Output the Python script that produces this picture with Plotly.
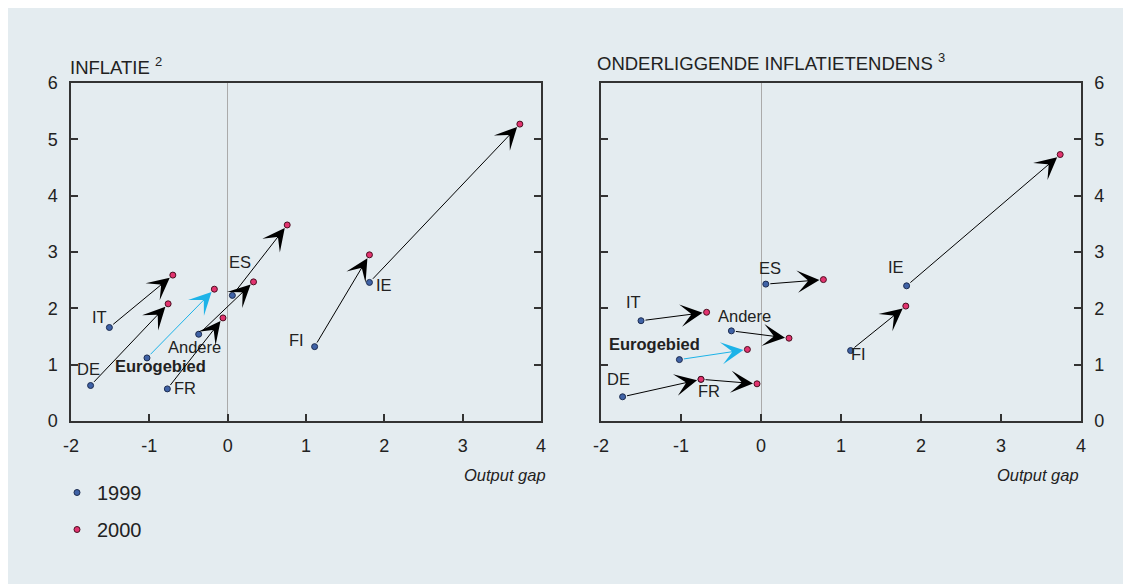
import plotly.graph_objects as go

# ---- data ----
countries = ["DE", "IT", "Eurogebied", "Andere", "FR", "ES", "IE", "FI"]

# Panel 1: Inflatie
gap_1999 = [-1.75, -1.51, -1.03, -0.37, -0.77, 0.06, 1.81, 1.11]
gap_2000 = [-0.76, -0.70, -0.17, 0.33, -0.06, 0.76, 3.73, 1.81]
infl_1999 = [0.63, 1.66, 1.12, 1.54, 0.57, 2.23, 2.46, 1.32]
infl_2000 = [2.08, 2.59, 2.34, 2.47, 1.83, 3.48, 5.27, 2.95]

# Panel 2: Onderliggende inflatietendens
gap2_1999 = [-1.73, -1.50, -1.02, -0.37, -0.75, 0.06, 1.82, 1.12]
gap2_2000 = [-0.75, -0.68, -0.17, 0.35, -0.05, 0.78, 3.74, 1.81]
core_1999 = [0.43, 1.78, 1.09, 1.60, 0.74, 2.43, 2.40, 1.25]
core_2000 = [0.74, 1.93, 1.27, 1.47, 0.66, 2.51, 4.73, 2.04]

x_ticks = [-2, -1, 0, 1, 2, 3, 4]
x_ticktext = ["-2", "-1", "0", "1", "2", "3", "4"]
y_ticks = [0, 1, 2, 3, 4, 5, 6]
years = ["1999", "2000"]

# ---- style ----
W, H = 1131, 584
OX, OY = 8, 8          # page body margin offset
BG = "#E4ECF0"
BLUE = "#3F62A6"
PINK = "#E2336F"
EURO = "#1DB3E8"
FONT = "Liberation Sans"
TXT = "#222222"

# label offsets in pixels (dx, dy)
lab_off1 = {"DE": (-2, 17), "IT": (-10, 10), "Eurogebied": (14, -8), "Andere": (-4, -13),
            "FR": (18, 1), "ES": (8, 33), "IE": (15, -3), "FI": (-18, 7)}
lab_off2 = {"DE": (-4, 18), "IT": (-8, 19), "Eurogebied": (-25, 16), "Andere": (13, 15),
            "FR": (8, -12), "ES": (4, 16), "IE": (-11, 19), "FI": (8, -3)}

def px2x(px):
    return (px - OX) / W

def py2y(py):
    return 1 - (py - OY) / H

fig = go.Figure()

marker_1999 = dict(color=BLUE, size=6, line=dict(color="#1c2c50", width=1))
marker_2000 = dict(color=PINK, size=6, line=dict(color="#4a1020", width=1))

fig.add_trace(go.Scatter(x=gap_1999, y=infl_1999, mode="markers", marker=marker_1999,
                         name=years[0], legendgroup="a", xaxis="x", yaxis="y", hoverinfo="skip"))
fig.add_trace(go.Scatter(x=gap_2000, y=infl_2000, mode="markers", marker=marker_2000,
                         name=years[1], legendgroup="b", xaxis="x", yaxis="y", hoverinfo="skip"))
fig.add_trace(go.Scatter(x=gap2_1999, y=core_1999, mode="markers", marker=marker_1999,
                         name=years[0], showlegend=False, xaxis="x2", yaxis="y2", hoverinfo="skip"))
fig.add_trace(go.Scatter(x=gap2_2000, y=core_2000, mode="markers", marker=marker_2000,
                         name=years[1], showlegend=False, xaxis="x2", yaxis="y2", hoverinfo="skip"))

annotations = []

def add_panel(xs0, ys0, xs1, ys1, xr, yr, offs):
    for c, x0, y0, x1, y1 in zip(countries, xs0, ys0, xs1, ys1):
        col = EURO if c == "Eurogebied" else "#000000"
        annotations.append(dict(x=x1, y=y1, ax=x0, ay=y0, xref=xr, yref=yr, axref=xr, ayref=yr,
                                 text="", showarrow=True, arrowhead=3, arrowsize=3.7,
                                 arrowwidth=1, arrowcolor=col, standoff=4, startstandoff=3))
        dx, dy = offs[c]
        annotations.append(dict(x=x0, y=y0, xref=xr, yref=yr, text=("<b>%s</b>" % c) if c == "Eurogebied" else c,
                                showarrow=False, xanchor="center", yanchor="middle",
                                xshift=dx, yshift=dy,
                                font=dict(family=FONT, size=16.5, color=TXT)))

add_panel(gap_1999, infl_1999, gap_2000, infl_2000, "x", "y", lab_off1)
add_panel(gap2_1999, core_1999, gap2_2000, core_2000, "x2", "y2", lab_off2)

annotations += [
    dict(x=px2x(68), y=py2y(66), xref="paper", yref="paper", text="INFLATIE <sup>2</sup>",
         showarrow=False, xanchor="left", yanchor="middle", font=dict(family=FONT, size=18.5, color=TXT)),
    dict(x=px2x(595), y=py2y(62), xref="paper", yref="paper", text="ONDERLIGGENDE INFLATIETENDENS <sup>3</sup>",
         showarrow=False, xanchor="left", yanchor="middle", font=dict(family=FONT, size=18.5, color=TXT)),
    dict(x=px2x(548), y=py2y(475), xref="paper", yref="paper", text="<i>Output gap</i>",
         showarrow=False, xanchor="right", yanchor="middle", font=dict(family=FONT, size=16.5, color=TXT)),
    dict(x=px2x(1081), y=py2y(475), xref="paper", yref="paper", text="<i>Output gap</i>",
         showarrow=False, xanchor="right", yanchor="middle", font=dict(family=FONT, size=16.5, color=TXT)),
]

axis_common = dict(showline=True, linecolor="#333333", linewidth=1.5, mirror=True,
                   showgrid=False, ticks="inside", ticklen=7, tickwidth=1.5, tickcolor="#333333",
                   automargin=False, ticklabelstandoff=8,
                   tickfont=dict(family=FONT, size=18, color=TXT))

xdom1 = [px2x(71), px2x(541)]
xdom2 = [px2x(601), px2x(1081)]
ydom = [py2y(421), py2y(83)]

fig.update_layout(
    width=W, height=H,
    margin=dict(l=0, r=0, t=0, b=0, pad=0, autoexpand=False),
    paper_bgcolor="white", plot_bgcolor="white",
    font=dict(family=FONT, color=TXT),
    xaxis=dict(domain=xdom1, range=[-2, 4], tickvals=x_ticks, ticktext=x_ticktext, zeroline=True,
               zerolinecolor="#AAAAAA", zerolinewidth=1.2, anchor="y", **axis_common),
    yaxis=dict(domain=ydom, range=[0, 6], tickvals=y_ticks, zeroline=False, anchor="x",
               **{**axis_common, "mirror": "ticks"}),
    xaxis2=dict(domain=xdom2, range=[-2, 4], tickvals=x_ticks, ticktext=x_ticktext, zeroline=True,
                zerolinecolor="#AAAAAA", zerolinewidth=1.2, anchor="y2", **axis_common),
    yaxis2=dict(domain=ydom, range=[0, 6], tickvals=y_ticks, zeroline=False, anchor="x2",
                side="right", **{**axis_common, "mirror": "ticks"}),
    annotations=annotations,
    shapes=[dict(type="rect", xref="paper", yref="paper", x0=0, x1=1, y0=0, y1=1,
                 fillcolor=BG, line=dict(width=0), layer="below")],
    showlegend=True,
    legend=dict(x=px2x(57), y=py2y(473), xanchor="left", yanchor="top", bgcolor="rgba(0,0,0,0)",
                font=dict(family=FONT, size=20, color=TXT), tracegroupgap=8, itemwidth=30),
)

fig.write_html("out.html")
